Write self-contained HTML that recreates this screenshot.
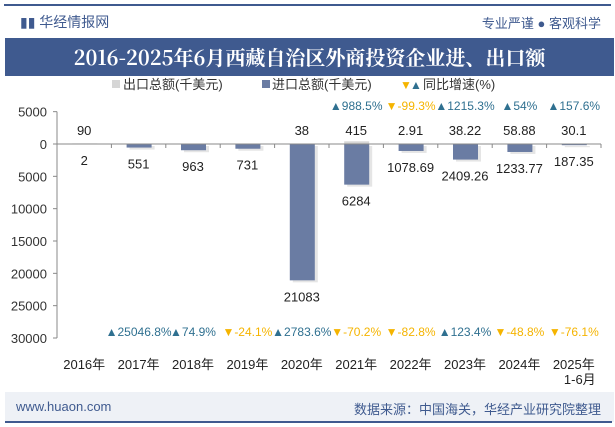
<!DOCTYPE html>
<html><head><meta charset="utf-8"><style>
body{margin:0;width:615px;height:427px;background:#fff;font-family:"Liberation Sans","Noto Sans CJK SC",sans-serif;overflow:hidden;position:relative}
</style></head><body>
<div style="position:absolute;left:4px;top:4px;width:607px;height:2px;background:#3f5a8f"></div>
<div style="position:absolute;left:20px;top:12px;font-size:14px;color:#3f5a8f">▮▮ 华经情报网</div>
<div style="position:absolute;right:14px;top:13px;font-size:13px;color:#3f5a8f">专业严谨 ● 客观科学</div>
<div style="position:absolute;left:5px;top:38px;width:609px;height:38px;background:#3f5a8f;color:#fff;font-family:'Noto Serif CJK SC','Liberation Serif',serif;font-weight:bold;font-size:20px;text-align:center;line-height:38px">2016-2025年6月西藏自治区外商投资企业进、出口额</div>
<svg id="c" width="615" height="427" style="position:absolute;left:0;top:0"></svg>
<div style="position:absolute;left:5px;top:392px;width:609px;height:30px;background:#eef1f6"></div>
<div style="position:absolute;left:5px;top:421px;width:607px;height:2px;background:#3f5a8f"></div>
<div style="position:absolute;left:16px;top:399px;font-size:13px;color:#3f5a8f">www.huaon.com</div>
<div style="position:absolute;right:14px;top:399px;font-size:13px;color:#3f5a8f">数据来源：中国海关，华经产业研究院整理</div>
<script>
const categories=["2016年","2017年","2018年","2019年","2020年","2021年","2022年","2023年","2024年","2025年"];
const exportVals=[90,2,0,0,38,415,2.91,38.22,58.88,30.1];
const exportLabels=["90","","","","38","415","2.91","38.22","58.88","30.1"];
const importVals=[2,551,963,731,21083,6284,1078.69,2409.26,1233.77,187.35];
const importLabels=["2","551","963","731","21083","6284","1078.69","2409.26","1233.77","187.35"];
const exportGrowth=[null,null,null,null,null,988.5,-99.3,1215.3,54,157.6];
const exportGrowthLabels=["","","","","","988.5%","-99.3%","1215.3%","54%","157.6%"];
const importGrowth=[null,25046.8,74.9,-24.1,2783.6,-70.2,-82.8,123.4,-48.8,-76.1];
const importGrowthLabels=["","25046.8%","74.9%","-24.1%","2783.6%","-70.2%","-82.8%","123.4%","-48.8%","-76.1%"];
const yTicks=[5000,0,5000,10000,15000,20000,25000,30000];
const yTickVals=[5000,0,-5000,-10000,-15000,-20000,-25000,-30000];
const S=document.getElementById('c'),NS='http://www.w3.org/2000/svg';
function el(t,a,txt){const e=document.createElementNS(NS,t);for(const k in a)e.setAttribute(k,a[k]);if(txt!=null)e.textContent=txt;S.appendChild(e);return e;}
const x0=57,x1=601,bw=(x1-x0)/categories.length;
function X(i){return x0+bw*(i+0.5);}
function Y(v){return 144-v*194/30000;}
let g;
g=el('rect',{x:112,y:80,width:8,height:8,fill:'#d6d6d6'});
g=el('text',{x:123,y:89,'font-size':13,fill:'#333'},'出口总额(千美元)');
g=el('rect',{x:262,y:80,width:8,height:8,fill:'#6a7ca3'});
g=el('text',{x:272,y:89,'font-size':13,fill:'#333'},'进口总额(千美元)');
g=el('text',{x:400,y:89,'font-size':12,fill:'#f5b400'},'▼');
g=el('text',{x:410,y:89,'font-size':12,fill:'#2f7090'},'▲');
g=el('text',{x:423,y:89,'font-size':13,fill:'#333'},'同比增速(%)');
g=el('line',{x1:x0,y1:Y(5000),x2:x0,y2:Y(-30000),stroke:'#888'});
yTickVals.forEach((v,i)=>{
 g=el('line',{x1:x0-4,y1:Y(v),x2:x0,y2:Y(v),stroke:'#888'});
 g=el('text',{x:x0-10,y:Y(v)+5,'font-size':13,fill:'#333','text-anchor':'end'},String(yTicks[i]));
});
categories.forEach((c,i)=>{
 const cx=X(i);
 g=el('line',{x1:x0+bw*(i+1),y1:Y(0),x2:x0+bw*(i+1),y2:Y(0)+4,stroke:'#888'});
 const iv=importVals[i];
 g=el('rect',{x:cx-12+3,y:Y(0)+2,width:25,height:Y(-iv)-Y(0),fill:'#ccc',opacity:0.5});
 g=el('rect',{x:cx-12,y:Y(0),width:25,height:Math.max(Y(-iv)-Y(0),0.5),fill:'#6a7ca3'});
 const ev=exportVals[i];
 g=el('rect',{x:cx-12,y:Y(ev),width:25,height:Y(0)-Y(ev),fill:'#d6d6d6'});
 g=el('text',{x:cx,y:Y(-iv)+21,'font-size':13,fill:'#222','text-anchor':'middle'},importLabels[i]);
 if(exportLabels[i]){g=el('text',{x:cx,y:135,'font-size':13,fill:'#222','text-anchor':'middle'},exportLabels[i]);}
 if(exportGrowth[i]!=null){
  const up=exportGrowth[i]>=0;
  g=el('text',{x:cx,y:110,'font-size':12,fill:up?'#2f7090':'#f5b400','text-anchor':'middle'},(up?'▲':'▼')+exportGrowthLabels[i]);
 }
 if(importGrowth[i]!=null){
  const up=importGrowth[i]>=0;
  g=el('text',{x:cx,y:336,'font-size':12,fill:up?'#2f7090':'#f5b400','text-anchor':'middle'},(up?'▲':'▼')+importGrowthLabels[i]);
 }
 g=el('text',{x:cx,y:369,'font-size':13,fill:'#222','text-anchor':'middle'},c);
});
g=el('text',{x:X(9)+6,y:384,'font-size':13,fill:'#222','text-anchor':'middle'},'1-6月');
g=el('line',{x1:x0,y1:Y(0),x2:x1,y2:Y(0),stroke:'#888'});
</script>
</body></html>
